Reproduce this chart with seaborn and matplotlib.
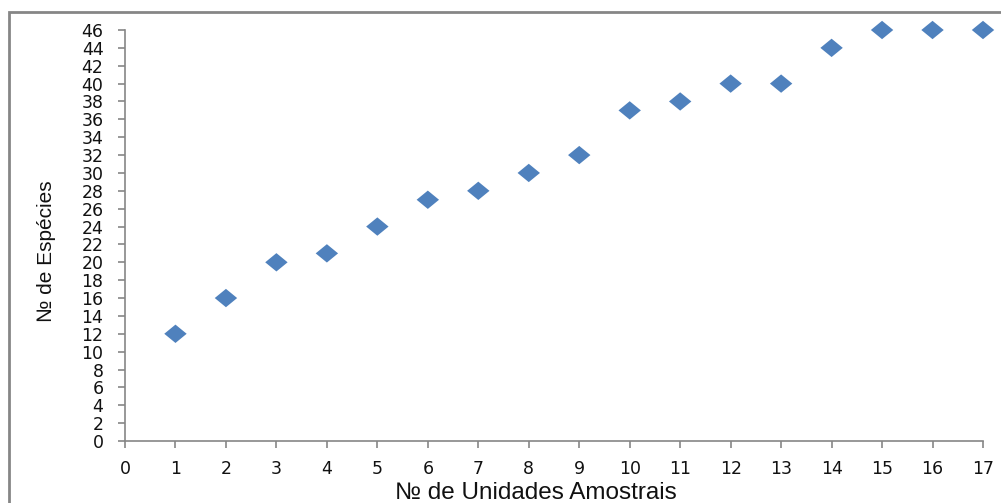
import numpy as np
import pandas as pd
import matplotlib
matplotlib.use("Agg")
import matplotlib.pyplot as plt
from matplotlib.patches import Rectangle
import seaborn as sns

# dados: curva de acumulação de espécies
unidades = [1, 2, 3, 4, 5, 6, 7, 8, 9, 10, 11, 12, 13, 14, 15, 16, 17]
especies = [12, 16, 20, 21, 24, 27, 28, 30, 32, 37, 38, 40, 40, 44, 46, 46, 46]

df = pd.DataFrame({"unidades": unidades, "especies": especies})

sns.set_style("white")
plt.rcParams['font.family'] = ['DejaVu Sans']

fig = plt.figure(figsize=(10.01, 5.03), dpi=100)
ax = fig.add_axes([125 / 1001, 1 - 441 / 503, (983 - 125) / 1001, (441 - 30) / 503])

# losango achatado, estilo Excel
losango = [(-1, 0), (0, 0.82), (1, 0), (0, -0.82), (-1, 0)]
sns.scatterplot(data=df, x="unidades", y="especies", ax=ax, marker=losango,
                s=260, color="#4F81BD", edgecolor="none", linewidth=0,
                clip_on=False, zorder=5)

ax.set_xlim(0, 17)
ax.set_ylim(0, 46)
ax.set_xticks(range(0, 18))
ax.set_yticks(range(0, 47, 2))

grey = "#868686"
for s in ["top", "right"]:
    ax.spines[s].set_visible(False)
for s in ["left", "bottom"]:
    ax.spines[s].set_color(grey)
    ax.spines[s].set_linewidth(1.2)
ax.tick_params(axis="both", direction="out", length=5, width=1.2, color=grey,
               labelsize=12.5, labelcolor="#111111", bottom=True, left=True)
ax.tick_params(axis="x", pad=9)
ax.tick_params(axis="y", pad=10.5)

fam = ["Liberation Sans", "DejaVu Sans"]
ax.set_xlabel("№ de Unidades Amostrais", fontsize=17.5, family=fam, color="#111111")
ax.set_ylabel("№ de Espécies", fontsize=15, family=fam, color="#111111")
ax.xaxis.label.set_va("baseline")
ax.xaxis.set_label_coords((536 - 125) / 858, (441 - 499) / 411)
ax.yaxis.set_label_coords(-0.080, (441 - 251) / 411)

# moldura do gráfico
fig.add_artist(Rectangle((9 / 1001, -0.1), 1.2, 1 - 12 / 503 + 0.1,
                         transform=fig.transFigure, fill=False,
                         edgecolor=grey, linewidth=2))

fig.savefig("out.png", dpi=100)
